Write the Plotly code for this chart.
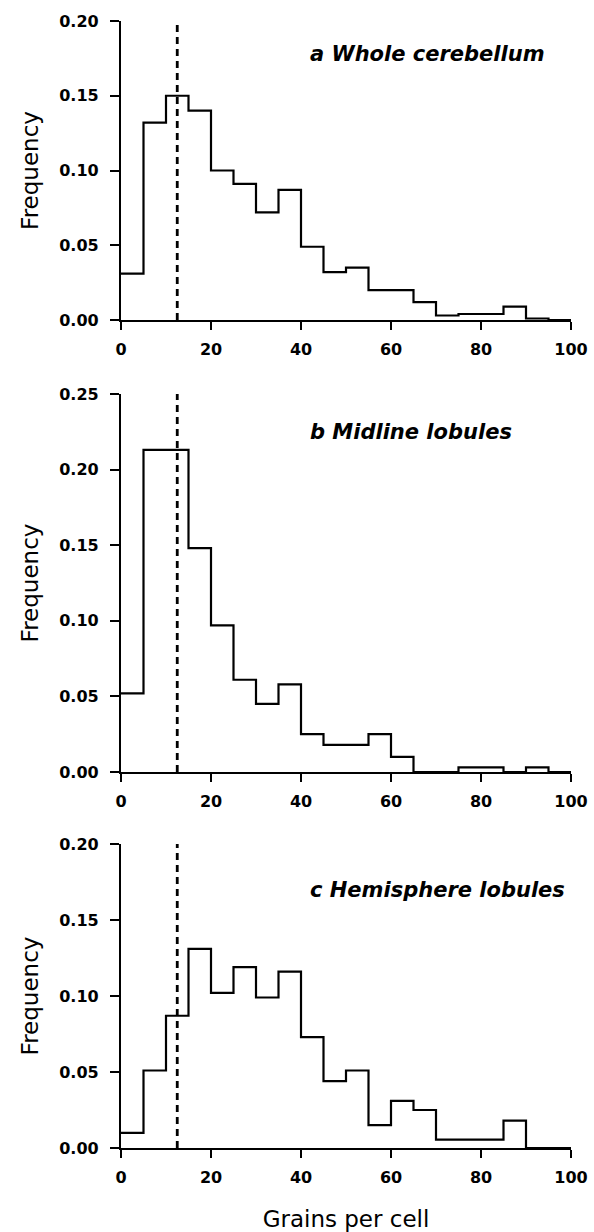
import plotly.graph_objects as go
from plotly.subplots import make_subplots

# Bin edges (grains per cell), 5-grain bins from 0 to 100
bin_edges = [0, 5, 10, 15, 20, 25, 30, 35, 40, 45, 50, 55, 60, 65, 70, 75, 80, 85, 90, 95, 100]

# Frequencies per bin
freq_whole = [0.031, 0.132, 0.150, 0.140, 0.100, 0.091, 0.072, 0.087, 0.049, 0.032,
              0.035, 0.020, 0.020, 0.012, 0.003, 0.004, 0.004, 0.009, 0.001, 0.0]
freq_midline = [0.052, 0.213, 0.213, 0.148, 0.097, 0.061, 0.045, 0.058, 0.025, 0.018,
                0.018, 0.025, 0.010, 0.0, 0.0, 0.003, 0.003, 0.0, 0.003, 0.0]
freq_hemisphere = [0.010, 0.051, 0.087, 0.131, 0.102, 0.119, 0.099, 0.116, 0.073, 0.044,
                   0.051, 0.015, 0.031, 0.025, 0.0055, 0.0055, 0.0055, 0.018, 0.0, 0.0]

panel_labels = ["a Whole cerebellum", "b Midline lobules", "c Hemisphere lobules"]
y_max = [0.20, 0.25, 0.20]
label_y = [0.178, 0.225, 0.170]
threshold = 12.5  # dashed reference line (grains per cell)

x_tick_vals = [0, 20, 40, 60, 80, 100]
x_title = "Grains per cell"
y_title = "Frequency"

series = [freq_whole, freq_midline, freq_hemisphere]

fig = make_subplots(rows=3, cols=1, vertical_spacing=0.05)

W, H = 594, 1232
ml, mr, mt, mb = 121, 23, 21, 84
plot_h = H - mt - mb
domains = [
    [(1148 - 320) / plot_h, 1.0],
    [(1148 - 772) / plot_h, (1148 - 394) / plot_h],
    [0.0, (1148 - 844) / plot_h],
]

tick_font = dict(family="DejaVu Sans", size=16, color="black", weight="bold")
title_font = dict(family="DejaVu Sans", size=23, color="black")

for i, vals in enumerate(series):
    r = i + 1
    xs = bin_edges[:-1] + [bin_edges[-1]]
    ys = vals + [vals[-1]]
    fig.add_trace(go.Scatter(x=xs, y=ys, mode="lines", line=dict(shape="hv", color="black", width=2.2),
                             showlegend=False, cliponaxis=False, hoverinfo="skip"), row=r, col=1)
    fig.add_trace(go.Scatter(x=[threshold, threshold], y=[0, y_max[i]], mode="lines",
                             line=dict(color="black", width=2.8, dash="7px,5px"),
                             showlegend=False, cliponaxis=False, hoverinfo="skip"), row=r, col=1)
    fig.update_xaxes(range=[0, 100], tickvals=x_tick_vals, ticks="outside", ticklen=8, tickwidth=2,
                     tickcolor="black", showline=True, linewidth=2.2, linecolor="black", showgrid=False,
                     zeroline=False, tickfont=tick_font, ticklabelstandoff=6, domain=[0, 1],
                     automargin=False, row=r, col=1)
    fig.update_yaxes(range=[0, y_max[i]], dtick=0.05, tickformat=".2f", ticks="outside", ticklen=9,
                     tickwidth=2, tickcolor="black", showline=True, linewidth=2.2, linecolor="black",
                     showgrid=False, zeroline=False, tickfont=tick_font, ticklabelstandoff=8,
                     domain=domains[i], title=dict(text=y_title, font=title_font, standoff=14),
                     automargin=False, row=r, col=1)
    fig.add_annotation(text=panel_labels[i], x=41.5, y=label_y[i], xref=f"x{'' if r == 1 else r}",
                       yref=f"y{'' if r == 1 else r}", xanchor="left", yanchor="middle", showarrow=False,
                       font=dict(family="DejaVu Sans", size=21, color="black", weight="bold", style="italic"))

fig.update_xaxes(title=dict(text=x_title, font=title_font, standoff=36), row=3, col=1)

fig.update_layout(width=W, height=H, margin=dict(l=ml, r=mr, t=mt, b=mb),
                  plot_bgcolor="white", paper_bgcolor="white")

fig.write_html("out.html", config={"displayModeBar": False},
               post_script="document.body.style.margin='0';document.body.style.overflow='hidden';")
